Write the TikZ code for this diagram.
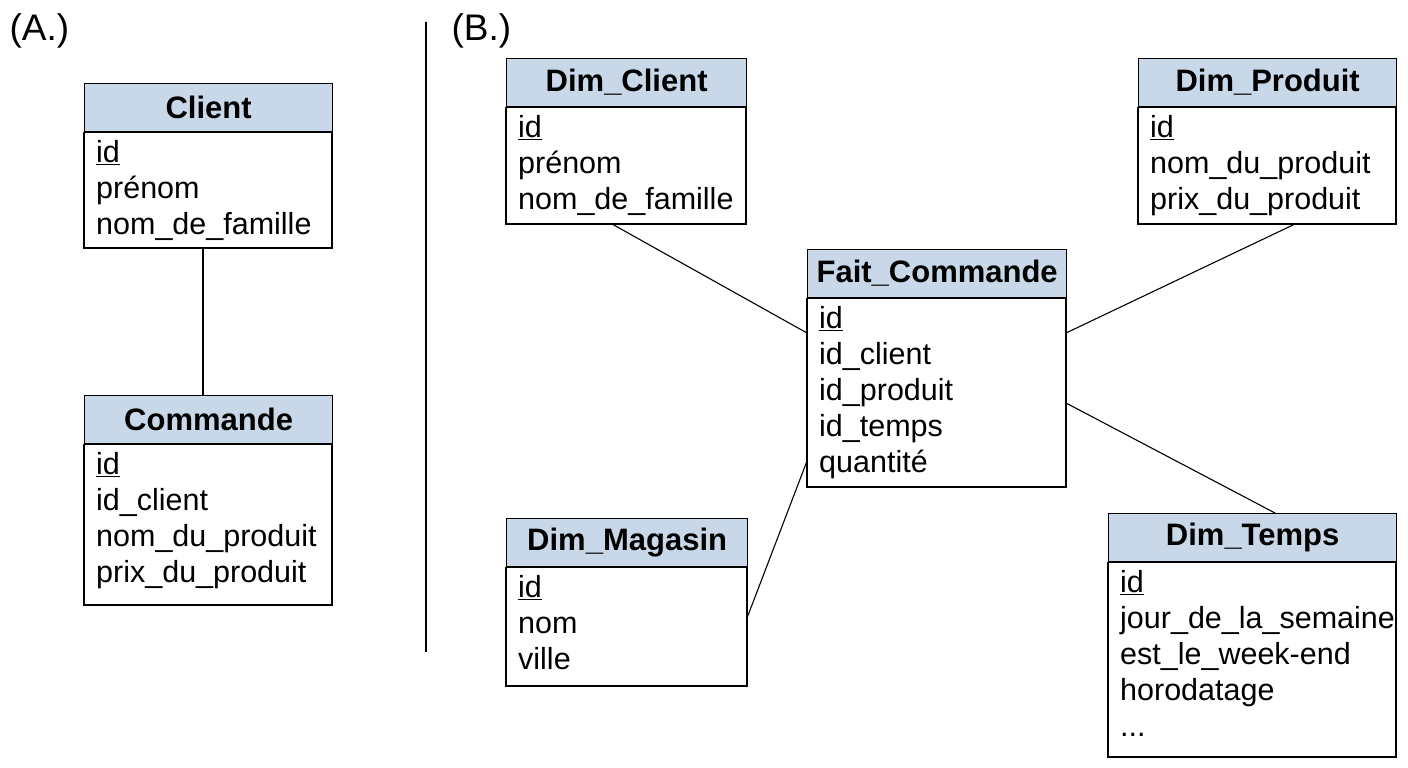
\documentclass[tikz,border=0pt]{standalone}
\usepackage{fontspec}
\setmainfont{Liberation Sans}
\usetikzlibrary{positioning,calc}
\definecolor{headblue}{RGB}{200,216,232}
\tikzstyle{head} = [rectangle, draw, fill=headblue, line width=1.3pt, font=\fontsize{31}{34}\selectfont\bfseries, minimum height=48pt, inner sep=0pt, anchor=north west]
\tikzstyle{body} = [align=left, font=\fontsize{30.5}{36}\selectfont, inner xsep=12pt, inner ysep=8pt, anchor=north west]
\tikzstyle{frame} = [draw, line width=1.3pt]
\tikzstyle{link} = [line width=1.1pt]
% table: name, x, y, width, bottom, title, rows
\newcommand{\ertable}[7]{
  \node[head, minimum width=#4pt] (#1-h) at (#2,#3) {#6};
  \node[body] (#1-b) at (#1-h.south west) {#7};
  \coordinate (#1-se) at (#2+#4,#5);
  \draw[frame] (#1-h.south west) rectangle (#1-se);
  \coordinate (#1-sw) at (#2,#5);
}
\begin{document}
\begin{tikzpicture}[x=1pt,y=-1pt]
  \useasboundingbox (0,0) rectangle (1408,768);
  \node[font=\fontsize{37}{40}\selectfont, anchor=west] (labA) at (6,31) {(A.)};
  \node[font=\fontsize{37}{40}\selectfont, anchor=west] (labB) at (448,31) {(B.)};
  \coordinate (divtop) at (426,22);
  \coordinate (divbot) at (426,652);
  \draw[link] (divtop) -- (divbot);

  % (A.)
  \ertable{client}{84}{83}{248}{248}{Client}{\underline{id}\\prénom\\nom\_de\_famille}
  \ertable{cmd}{84}{395}{248}{605}{Commande}{\underline{id}\\id\_client\\nom\_du\_produit\\prix\_du\_produit}
  \draw[link] (client-sw -| 203,0) -- (cmd-h.north west -| 203,0);

  % (B.)
  \ertable{dclient}{506}{58}{240}{224}{Dim\_Client}{\underline{id}\\prénom\\nom\_de\_famille}
  \ertable{dprod}{1138}{58}{258}{224}{Dim\_Produit}{\underline{id}\\nom\_du\_produit\\prix\_du\_produit}
  \ertable{fait}{807}{249}{259}{487}{Fait\_Commande}{\underline{id}\\id\_client\\id\_produit\\id\_temps\\quantité}
  \ertable{dmag}{506}{518}{241}{686}{Dim\_Magasin}{\underline{id}\\nom\\ville}
  \ertable{dtemps}{1108}{513}{288}{757}{Dim\_Temps}{\underline{id}\\jour\_de\_la\_semaine\\est\_le\_week-end\\horodatage\\...}

  \coordinate (c1) at (612,224);
  \coordinate (c2) at (807,333);
  \coordinate (p1) at (1295,224);
  \coordinate (p2) at (1066,333);
  \coordinate (m1) at (807,461);
  \coordinate (m2) at (747,618);
  \coordinate (t1) at (1066,403);
  \coordinate (t2) at (1275,513);
  \draw[link] (c1) -- (c2);
  \draw[link] (p1) -- (p2);
  \draw[link] (m1) -- (m2);
  \draw[link] (t1) -- (t2);
\end{tikzpicture}
\end{document}
